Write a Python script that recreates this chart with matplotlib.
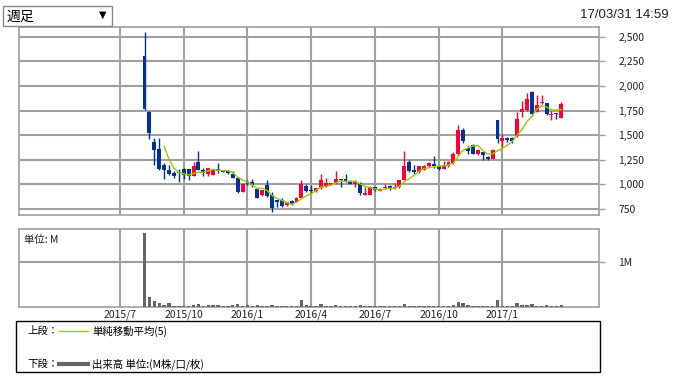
import matplotlib
matplotlib.use('Agg')
from matplotlib import pyplot as plt
from matplotlib.patches import Rectangle
from matplotlib.lines import Line2D
import numpy as np
import pandas as pd

plt.rcParams['font.family'] = ['Noto Sans CJK JP', 'DejaVu Sans']

# weekly candles, oldest first (2015/8 .. 2017/3)
opens = [2304, 1733, 1426, 1362, 1199, 1149, 1118, 1125, 1159, 1159,
         1081, 1230, 1142, 1108, 1098, 1155, 1145, 1138, 1108, 1067,
         919, 1028, 1020, 949, 892, 993, 892, 841, 841, 790,
         831, 824, 865, 986, 943, 932, 959, 986, 993, 1010,
         1054, 1054, 1030, 1001, 1011, 891, 891, 970, 936, 963,
         984, 963, 977, 1045, 1223, 1148, 1124, 1148, 1182, 1209,
         1182, 1158, 1182, 1216, 1308, 1548, 1366, 1396, 1304, 1328,
         1277, 1253, 1652, 1437, 1471, 1468, 1488, 1737, 1754, 1942,
         1737, 1823, 1830, 1700, 1720, 1676]
highs = [2550, 1747, 1470, 1470, 1215, 1199, 1132, 1159, 1165, 1160,
         1230, 1341, 1166, 1170, 1155, 1216, 1148, 1148, 1132, 1074,
         1013, 1040, 1050, 960, 943, 1044, 926, 845, 858, 824,
         838, 870, 1045, 1000, 993, 966, 1110, 1061, 1015, 1135,
         1058, 1108, 1040, 1040, 1028, 977, 985, 977, 960, 1004,
         994, 1011, 1045, 1336, 1250, 1199, 1189, 1199, 1226, 1291,
         1199, 1233, 1233, 1325, 1599, 1575, 1390, 1406, 1362, 1328,
         1284, 1355, 1652, 1509, 1481, 1481, 1737, 1850, 1925, 1952,
         1908, 1908, 1830, 1748, 1720, 1840]
lows = [1757, 1456, 1196, 1145, 1051, 1091, 1064, 1020, 1057, 1047,
        1081, 1142, 1081, 1081, 1091, 1115, 1125, 1108, 1064, 909,
        919, 995, 976, 858, 885, 875, 723, 774, 774, 777,
        790, 820, 858, 926, 916, 926, 952, 976, 990, 1000,
        970, 1020, 1000, 976, 891, 891, 891, 933, 933, 953,
        943, 953, 960, 1045, 1124, 1107, 1114, 1141, 1175, 1165,
        1148, 1155, 1172, 1209, 1301, 1421, 1312, 1304, 1294, 1243,
        1250, 1253, 1420, 1379, 1431, 1420, 1481, 1686, 1748, 1693,
        1730, 1816, 1703, 1652, 1659, 1676]
closes = [1770, 1517, 1345, 1159, 1142, 1108, 1081, 1115, 1091, 1081,
          1189, 1142, 1115, 1166, 1155, 1138, 1128, 1111, 1067, 919,
          1003, 1000, 993, 865, 943, 885, 764, 824, 780, 824,
          797, 865, 1000, 936, 929, 966, 1045, 1010, 1010, 1054,
          1040, 1037, 1007, 1021, 915, 915, 977, 943, 953, 977,
          953, 977, 1045, 1182, 1137, 1124, 1182, 1182, 1216, 1189,
          1155, 1199, 1226, 1312, 1548, 1438, 1335, 1311, 1345, 1294,
          1257, 1345, 1465, 1475, 1448, 1444, 1662, 1765, 1867, 1710,
          1806, 1840, 1710, 1710, 1713, 1816]
# volume in millions
volumes = [1.625, 0.213, 0.125, 0.081, 0.037, 0.081, 0.012, 0.012, 0.012, 0.012,
           0.037, 0.059, 0.012, 0.037, 0.037, 0.037, 0.012, 0.012, 0.037, 0.059,
           0.012, 0.037, 0.012, 0.037, 0.012, 0.012, 0.037, 0.012, 0.012, 0.012,
           0.012, 0.012, 0.147, 0.037, 0.012, 0.012, 0.059, 0.012, 0.012, 0.037,
           0.012, 0.012, 0.012, 0.012, 0.037, 0.012, 0.012, 0.012, 0.012, 0.012,
           0.012, 0.012, 0.012, 0.059, 0.012, 0.012, 0.012, 0.012, 0.012, 0.012,
           0.012, 0.012, 0.012, 0.037, 0.110, 0.081, 0.037, 0.012, 0.012, 0.012,
           0.012, 0.012, 0.154, 0.012, 0.012, 0.012, 0.081, 0.037, 0.037, 0.059,
           0.012, 0.012, 0.037, 0.012, 0.012, 0.037]

# month gridlines, as candle index of first week of the month
month_pos = [-5, 8, 21, 34, 47, 60, 73]
month_labels = ['2015/7', '2015/10', '2016/1', '2016/4', '2016/7', '2016/10', '2017/1']
price_ticks = [750, 1000, 1250, 1500, 1750, 2000, 2250, 2500]

up_color = '#ff0033'
down_color = '#003399'
grid_color = '#a0a0a0'
ma_color = '#99cc00'

fig = plt.figure(figsize=(6.74, 3.77), dpi=100)
fig.set_facecolor('white')

x = np.arange(len(closes))
o = np.array(opens)
h = np.array(highs)
l = np.array(lows)
c = np.array(closes)
colors = [up_color if cc >= oo else down_color for oo, cc in zip(o, c)]

# price panel
ax = fig.add_axes([19 / 674, 1 - 215 / 377, 580 / 674, 188 / 377])
ax.vlines(x, l, h, colors=colors, linewidth=1, zorder=3)
ax.bar(x, np.maximum(np.abs(c - o), 8), bottom=np.minimum(o, c), width=0.8,
       color=colors, zorder=4)

# simple moving average (5)
ma = pd.Series(c).rolling(5).mean()
ax.plot(x, ma, color=ma_color, linewidth=1, zorder=5)

ax.set_xlim(-25.6, 92.7)
ax.set_ylim(689, 2598)
ax.set_xticks(month_pos)
ax.set_xticklabels([])
ax.set_yticks(price_ticks)
ax.set_yticklabels([f'{v:,}' for v in price_ticks])
ax.yaxis.tick_right()
ax.tick_params(axis='x', length=0)
ax.tick_params(axis='y', length=4, width=1, color=grid_color, pad=10,
               labelsize=7.5, labelcolor='#222222')
ax.grid(True, color=grid_color, linewidth=1.5, zorder=0)
ax.set_axisbelow(True)
for s in ax.spines.values():
    s.set_color(grid_color)
    s.set_linewidth(1.2)

# volume panel
ax2 = fig.add_axes([19 / 674, 1 - 307 / 377, 580 / 674, 78 / 377])
ax2.bar(x, volumes, width=0.7, color='#666666', zorder=3)
ax2.set_xlim(-25.6, 92.7)
ax2.set_ylim(0, 1.72)
ax2.set_xticks(month_pos)
ax2.set_xticklabels(month_labels)
ax2.set_yticks([1])
ax2.set_yticklabels(['1M'])
ax2.yaxis.tick_right()
ax2.tick_params(axis='x', length=0, pad=2, labelsize=7.5, labelcolor='#222222')
ax2.tick_params(axis='y', length=4, width=1, color=grid_color, pad=10,
                labelsize=7.5, labelcolor='#222222')
ax2.grid(True, color=grid_color, linewidth=1.5, zorder=0)
ax2.set_axisbelow(True)
for s in ax2.spines.values():
    s.set_color(grid_color)
    s.set_linewidth(1.2)
ax2.text(0.008, 0.93, '単位: M', transform=ax2.transAxes, fontsize=7.5,
         va='top', ha='left', color='#222222')

# dropdown box and timestamp
fig.patches.append(Rectangle((3 / 674, 1 - 26 / 377), 109 / 674, 20 / 377,
                             transform=fig.transFigure, facecolor='white',
                             edgecolor='#888888', linewidth=1))
fig.text(6 / 674, 1 - 17 / 377, '週足', fontsize=10, va='center', ha='left')
fig.text(103 / 674, 1 - 15 / 377, '▼', fontsize=7, va='center', ha='center',
         family='DejaVu Sans')
fig.text(669 / 674, 1 - 15 / 377, '17/03/31 14:59', fontsize=9.5, va='center',
         ha='right', family='Liberation Sans', color='#222222')

# legend box
fig.patches.append(Rectangle((16 / 674, 1 - 372 / 377), 584 / 674, 51 / 377,
                             transform=fig.transFigure, facecolor='white',
                             edgecolor='black', linewidth=1))
fig.text(27 / 674, 1 - 331 / 377, '上段：', fontsize=7.5, va='center')
fig.lines.append(Line2D([59 / 674, 88 / 674], [1 - 331 / 377, 1 - 331 / 377],
                        transform=fig.transFigure, color=ma_color, linewidth=1))
fig.text(92 / 674, 1 - 331 / 377, '単純移動平均(5)', fontsize=7.5, va='center')
fig.text(27 / 674, 1 - 364 / 377, '下段：', fontsize=7.5, va='center')
fig.lines.append(Line2D([59 / 674, 88 / 674], [1 - 364 / 377, 1 - 364 / 377],
                        transform=fig.transFigure, color='#666666', linewidth=3))
fig.text(92 / 674, 1 - 364 / 377, '出来高 単位:(M株/口/枚)', fontsize=7.5, va='center')

fig.savefig('out.png', dpi=100, facecolor='white')
